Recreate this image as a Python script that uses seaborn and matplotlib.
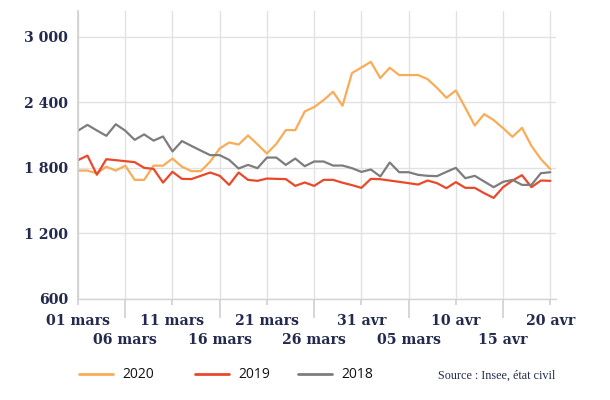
import matplotlib
matplotlib.use("Agg")
import matplotlib.pyplot as plt
import seaborn as sns
import pandas as pd

# ---- data ----
day_index = list(range(51))  # 01 mars .. 20 avr
deaths_2020 = [1775, 1775, 1750, 1810, 1775, 1820, 1690, 1690, 1820, 1820,
               1885, 1810, 1770, 1770, 1858, 1977, 2032, 2013, 2096, 2015,
               1931, 2020, 2145, 2145, 2316, 2356, 2420, 2496, 2368, 2667,
               2718, 2770, 2621, 2716, 2649, 2649, 2649, 2612, 2532, 2441,
               2508, 2350, 2187, 2292, 2237, 2163, 2084, 2166, 2001, 1880, 1788]
deaths_2019 = [1870, 1912, 1737, 1879, 1870, 1861, 1852, 1800, 1790, 1665,
               1764, 1699, 1697, 1727, 1757, 1727, 1644, 1757, 1690, 1681,
               1702, 1699, 1697, 1635, 1666, 1635, 1690, 1690, 1664, 1642,
               1617, 1699, 1696, 1684, 1672, 1660, 1647, 1684, 1660, 1614,
               1669, 1617, 1617, 1568, 1525, 1623, 1684, 1733, 1623, 1684, 1681]
deaths_2018 = [2140, 2193, 2142, 2093, 2199, 2140, 2056, 2106, 2049, 2087,
               1950, 2045, 2001, 1958, 1916, 1916, 1873, 1794, 1827, 1797,
               1894, 1894, 1827, 1885, 1815, 1858, 1858, 1821, 1821, 1797,
               1763, 1785, 1721, 1849, 1760, 1760, 1736, 1727, 1724, 1763,
               1800, 1705, 1727, 1675, 1623, 1672, 1690, 1644, 1644, 1751, 1760]
series_names = ["2020", "2019", "2018"]
series_colors = ["#f9ac58", "#e9492a", "#7d7d7d"]
tick_positions = [0, 5, 10, 15, 20, 25, 30, 35, 40, 45, 50]
tick_labels = ["01 mars", "06 mars", "11 mars", "16 mars", "21 mars", "26 mars",
               "31 avr", "05 mars", "10 avr", "15 avr", "20 avr"]
y_ticks = [600, 1200, 1800, 2400, 3000]
y_tick_labels = ["600", "1 200", "1 800", "2 400", "3 000"]
source_text = "Source : Insee, état civil"

df = pd.DataFrame({
    "jour": day_index * 3,
    "deces": deaths_2020 + deaths_2019 + deaths_2018,
    "annee": [series_names[0]] * 51 + [series_names[1]] * 51 + [series_names[2]] * 51,
})

sns.set_theme(style="white")
plt.rcParams["font.family"] = ["DejaVu Serif"]

navy = "#232a4e"
grid_c = "#e2e2e2"
tick_c = "#d0d0d0"

fig = plt.figure(figsize=(6.10, 4.00), dpi=100)
ax = fig.add_axes([78 / 610, 1 - 299 / 400, (556 - 78) / 610, (299 - 11) / 400])

sns.lineplot(data=df, x="jour", y="deces", hue="annee", hue_order=series_names,
             palette=dict(zip(series_names, series_colors)), linewidth=1.6,
             ax=ax, legend=True)

ax.set_xlim(0, 50.6)
ax.set_ylim(600, 3235)
ax.set_xlabel("")
ax.set_ylabel("")

# x ticks: two rows (major = top row, minor = second row)
ax.set_xticks(tick_positions[0::2])
ax.set_xticklabels(tick_labels[0::2])
ax.set_xticks(tick_positions[1::2], minor=True)
ax.set_xticklabels(tick_labels[1::2], minor=True)
ax.tick_params(axis="x", which="major", length=4, width=1.2, color=tick_c, pad=6.5,
               labelsize=10.2, labelcolor=navy, bottom=True)
ax.tick_params(axis="x", which="minor", length=14, width=1.2, color=tick_c, pad=10.5,
               labelsize=10.2, labelcolor=navy, bottom=True)
for lab in ax.get_xticklabels(which="both"):
    lab.set_fontweight("bold")

ax.set_yticks(y_ticks)
ax.set_yticklabels(y_tick_labels)
ax.tick_params(axis="y", length=0, pad=7, labelsize=10.2, labelcolor=navy)
for lab in ax.get_yticklabels():
    lab.set_fontweight("bold")

ax.grid(True, axis="x", which="both", color=grid_c, linewidth=1.0)
ax.grid(True, axis="y", which="major", color=grid_c, linewidth=1.0)
ax.set_axisbelow(True)
for s in ["top", "right"]:
    ax.spines[s].set_visible(False)
ax.spines["left"].set_color("#cfcfcf")
ax.spines["left"].set_linewidth(1.2)
ax.spines["bottom"].set_color("#d4d4d4")
ax.spines["bottom"].set_linewidth(1.0)

# legend: one entry per position
handles, labels = ax.get_legend_handles_labels()
ax.get_legend().remove()
legend_x = [79 / 610, 195 / 610, 298 / 610]
for h, l, xpos in zip(handles, labels, legend_x):
    h.set_linewidth(2.0)
    leg = fig.legend([h], [l], loc="center left", bbox_to_anchor=(xpos, 1 - 375 / 400),
                     frameon=False, borderpad=0, borderaxespad=0, handlelength=2.45,
                     handletextpad=0.65, prop={"family": "Open Sans", "size": 10})
    for t in leg.get_texts():
        t.set_color("#111111")

fig.text(438 / 610, 1 - 376 / 400, source_text, ha="left", va="center",
         fontsize=8.7, color=navy, family="Liberation Serif")

fig.savefig("out.png", dpi=100, facecolor="white")
